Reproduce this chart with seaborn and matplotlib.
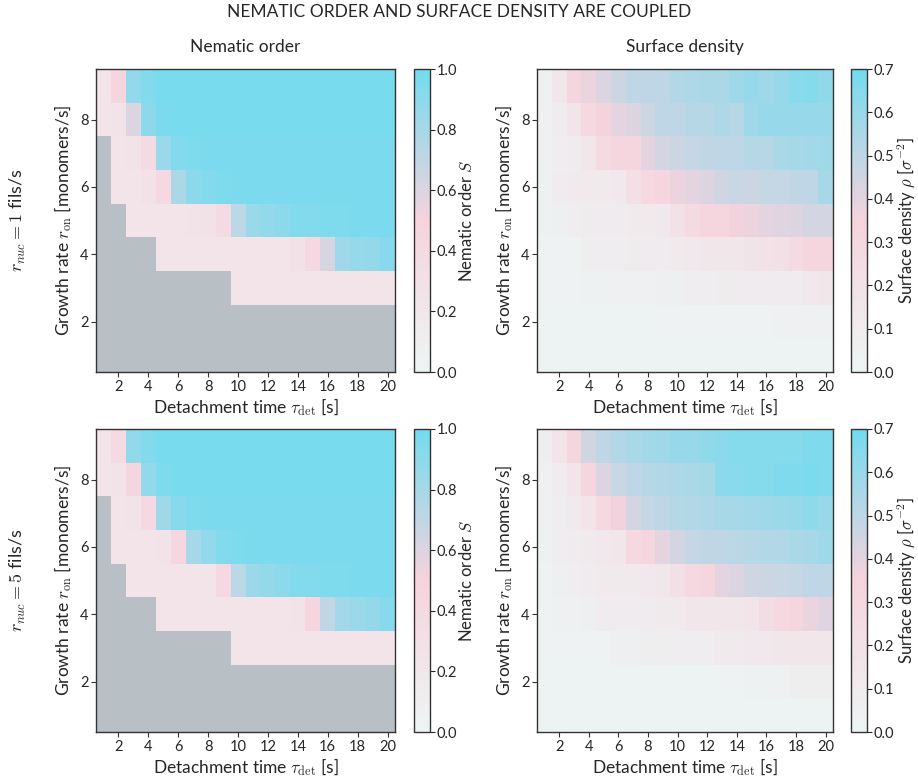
import numpy as np
import pandas as pd
import matplotlib
matplotlib.use("Agg")
import matplotlib.pyplot as plt
from matplotlib.colors import LinearSegmentedColormap
import seaborn as sns

nan = np.nan
tau_det = list(range(1, 21))
r_on = [9, 8, 7, 6, 5, 4, 3, 2, 1]

nematic_r1 = [
    [0.25, 0.45, 0.88, 0.94, 0.97, 0.97, 0.97, 0.97, 0.97, 0.97, 0.97, 0.97, 0.97, 0.97, 0.97, 0.97, 0.97, 0.97, 0.97, 0.97],
    [0.25, 0.27, 0.60, 0.90, 0.96, 0.97, 0.97, 0.97, 0.97, 0.97, 0.97, 0.97, 0.97, 0.97, 0.97, 0.97, 0.97, 0.97, 0.97, 0.97],
    [nan, 0.25, 0.26, 0.40, 0.85, 0.93, 0.95, 0.96, 0.96, 0.96, 0.96, 0.96, 0.96, 0.96, 0.96, 0.96, 0.96, 0.96, 0.96, 0.96],
    [nan, 0.25, 0.25, 0.30, 0.42, 0.78, 0.90, 0.93, 0.95, 0.96, 0.96, 0.96, 0.96, 0.96, 0.96, 0.96, 0.96, 0.96, 0.96, 0.96],
    [nan, nan, 0.25, 0.25, 0.25, 0.25, 0.26, 0.28, 0.40, 0.72, 0.85, 0.88, 0.90, 0.93, 0.94, 0.95, 0.95, 0.96, 0.96, 0.96],
    [nan, nan, nan, nan, 0.25, 0.25, 0.25, 0.25, 0.25, 0.25, 0.25, 0.25, 0.25, 0.30, 0.42, 0.62, 0.83, 0.86, 0.87, 0.92],
    [nan, nan, nan, nan, nan, nan, nan, nan, nan, 0.25, 0.25, 0.25, 0.25, 0.25, 0.25, 0.25, 0.25, 0.25, 0.25, 0.25],
    [nan] * 20,
    [nan] * 20,
]

nematic_r5 = [
    [0.25, 0.40, 0.88, 0.94, 0.97, 0.97, 0.97, 0.97, 0.97, 0.97, 0.97, 0.97, 0.97, 0.97, 0.97, 0.97, 0.97, 0.97, 0.97, 0.97],
    [0.25, 0.26, 0.45, 0.88, 0.95, 0.97, 0.97, 0.97, 0.97, 0.97, 0.97, 0.97, 0.97, 0.97, 0.97, 0.97, 0.97, 0.97, 0.97, 0.97],
    [nan, 0.25, 0.26, 0.42, 0.83, 0.92, 0.95, 0.96, 0.96, 0.96, 0.96, 0.96, 0.96, 0.96, 0.96, 0.96, 0.96, 0.96, 0.96, 0.96],
    [nan, 0.25, 0.25, 0.25, 0.26, 0.44, 0.80, 0.88, 0.93, 0.95, 0.96, 0.96, 0.96, 0.96, 0.96, 0.96, 0.96, 0.96, 0.96, 0.96],
    [nan, nan, 0.25, 0.25, 0.25, 0.25, 0.25, 0.25, 0.42, 0.72, 0.84, 0.87, 0.90, 0.93, 0.94, 0.95, 0.95, 0.96, 0.96, 0.96],
    [nan, nan, nan, nan, 0.25, 0.25, 0.25, 0.25, 0.25, 0.25, 0.25, 0.25, 0.25, 0.27, 0.45, 0.70, 0.82, 0.85, 0.87, 0.92],
    [nan, nan, nan, nan, nan, nan, nan, nan, nan, 0.25, 0.25, 0.25, 0.25, 0.25, 0.25, 0.25, 0.25, 0.25, 0.25, 0.25],
    [nan] * 20,
    [nan] * 20,
]

density_r1 = [
    [0.05, 0.15, 0.33, 0.38, 0.42, 0.46, 0.50, 0.50, 0.50, 0.53, 0.54, 0.55, 0.55, 0.58, 0.60, 0.58, 0.60, 0.64, 0.65, 0.62],
    [0.05, 0.10, 0.18, 0.30, 0.35, 0.40, 0.42, 0.46, 0.50, 0.50, 0.52, 0.52, 0.54, 0.52, 0.58, 0.60, 0.60, 0.60, 0.60, 0.60],
    [0.05, 0.08, 0.10, 0.15, 0.27, 0.33, 0.33, 0.40, 0.44, 0.46, 0.48, 0.49, 0.50, 0.50, 0.52, 0.52, 0.55, 0.56, 0.57, 0.58],
    [0.04, 0.10, 0.11, 0.12, 0.12, 0.13, 0.22, 0.30, 0.33, 0.38, 0.40, 0.42, 0.45, 0.47, 0.46, 0.48, 0.48, 0.49, 0.50, 0.56],
    [0.04, 0.06, 0.08, 0.09, 0.10, 0.10, 0.11, 0.12, 0.13, 0.20, 0.27, 0.32, 0.33, 0.36, 0.38, 0.40, 0.41, 0.42, 0.44, 0.44],
    [0.03, 0.03, 0.03, 0.07, 0.08, 0.08, 0.09, 0.10, 0.10, 0.12, 0.13, 0.14, 0.14, 0.15, 0.17, 0.20, 0.22, 0.28, 0.32, 0.33],
    [0.03, 0.03, 0.03, 0.04, 0.04, 0.05, 0.05, 0.05, 0.06, 0.06, 0.08, 0.08, 0.09, 0.09, 0.10, 0.10, 0.10, 0.10, 0.13, 0.15],
    [0.02, 0.02, 0.02, 0.02, 0.02, 0.02, 0.02, 0.02, 0.03, 0.03, 0.03, 0.03, 0.03, 0.03, 0.03, 0.03, 0.05, 0.05, 0.05, 0.05],
    [0.02, 0.02, 0.02, 0.02, 0.02, 0.02, 0.02, 0.02, 0.02, 0.02, 0.02, 0.02, 0.02, 0.02, 0.02, 0.02, 0.02, 0.02, 0.02, 0.02],
]

density_r5 = [
    [0.08, 0.18, 0.33, 0.45, 0.50, 0.53, 0.55, 0.57, 0.58, 0.60, 0.60, 0.62, 0.63, 0.65, 0.65, 0.65, 0.65, 0.65, 0.66, 0.66],
    [0.05, 0.10, 0.18, 0.33, 0.42, 0.47, 0.50, 0.52, 0.53, 0.54, 0.55, 0.56, 0.63, 0.64, 0.65, 0.65, 0.66, 0.66, 0.67, 0.66],
    [0.05, 0.08, 0.12, 0.18, 0.30, 0.36, 0.44, 0.48, 0.50, 0.52, 0.53, 0.54, 0.56, 0.56, 0.57, 0.58, 0.59, 0.60, 0.62, 0.60],
    [0.04, 0.08, 0.10, 0.12, 0.13, 0.15, 0.30, 0.33, 0.40, 0.44, 0.48, 0.49, 0.50, 0.51, 0.52, 0.53, 0.53, 0.55, 0.56, 0.58],
    [0.03, 0.06, 0.08, 0.10, 0.11, 0.12, 0.12, 0.13, 0.15, 0.22, 0.30, 0.33, 0.40, 0.42, 0.45, 0.46, 0.47, 0.48, 0.50, 0.50],
    [0.03, 0.05, 0.05, 0.06, 0.10, 0.10, 0.10, 0.10, 0.11, 0.11, 0.14, 0.14, 0.14, 0.14, 0.18, 0.25, 0.30, 0.33, 0.38, 0.41],
    [0.03, 0.03, 0.03, 0.03, 0.03, 0.06, 0.06, 0.07, 0.07, 0.08, 0.08, 0.08, 0.12, 0.12, 0.13, 0.13, 0.14, 0.14, 0.15, 0.15],
    [0.02, 0.02, 0.02, 0.02, 0.02, 0.02, 0.02, 0.02, 0.02, 0.02, 0.02, 0.02, 0.03, 0.03, 0.04, 0.04, 0.05, 0.07, 0.07, 0.07],
    [0.02, 0.02, 0.02, 0.02, 0.02, 0.02, 0.02, 0.02, 0.02, 0.02, 0.02, 0.02, 0.02, 0.02, 0.02, 0.02, 0.02, 0.02, 0.02, 0.02],
]

x_ticks = [2, 4, 6, 8, 10, 12, 14, 16, 18, 20]
y_ticks = [2, 4, 6, 8]
nematic_ticks = [0.0, 0.2, 0.4, 0.6, 0.8, 1.0]
density_ticks = [0.0, 0.1, 0.2, 0.3, 0.4, 0.5, 0.6, 0.7]
row_labels = [r"$r_{nuc} = 1$ fils/s", r"$r_{nuc} = 5$ fils/s"]

sns.set_style("white")
plt.rcParams["font.family"] = ["Lato", "DejaVu Sans"]
plt.rcParams["mathtext.fontset"] = "cm"

cmap = LinearSegmentedColormap.from_list(
    "np", [(0.0, "#edf5f4"), (0.5, "#f6d3dd"), (1.0, "#72dbef")])

W, H = 918, 783
fig = plt.figure(figsize=(W / 100, H / 100), dpi=100)

def rect(x0, y0, x1, y1):
    return [x0 / W, 1 - y1 / H, (x1 - x0) / W, (y1 - y0) / H]

rows_px = [(69, 372), (429, 732)]
panels = [
    [(nematic_r1, 1.0, nematic_ticks, r"Nematic order $S$"),
     (density_r1, 0.7, density_ticks, r"Surface density $\rho$ [$\sigma^{-2}$]")],
    [(nematic_r5, 1.0, nematic_ticks, r"Nematic order $S$"),
     (density_r5, 0.7, density_ticks, r"Surface density $\rho$ [$\sigma^{-2}$]")],
]
cols_px = [((96, 395), (414, 430)), ((537, 833), (851, 867))]
titles = ["Nematic order", "Surface density"]

for i, (y0, y1) in enumerate(rows_px):
    for j, ((ax0, ax1), (cb0, cb1)) in enumerate(cols_px):
        data, vmax, cticks, clabel = panels[i][j]
        ax = fig.add_axes(rect(ax0, y0, ax1, y1))
        cax = fig.add_axes(rect(cb0, y0, cb1, y1))
        df = pd.DataFrame(data, index=r_on, columns=tau_det)
        sns.heatmap(df, ax=ax, cbar_ax=cax, cmap=cmap, vmin=0, vmax=vmax,
                    xticklabels=False, yticklabels=False)
        ax.set_facecolor("#b8c0c6")
        for s in ax.spines.values():
            s.set_visible(True)
            s.set_color("#333333")
            s.set_linewidth(1.0)
        ax.set_xticks([tau_det.index(v) + 0.5 for v in x_ticks])
        ax.set_xticklabels([str(v) for v in x_ticks], fontsize=10.5)
        ax.set_yticks([r_on.index(v) + 0.5 for v in y_ticks])
        ax.set_yticklabels([str(v) for v in y_ticks], fontsize=10.5, rotation=0)
        ax.tick_params(axis="both", which="major", length=3.5, width=0.8,
                       color="#333333", bottom=True, left=True, pad=2)
        ax.set_xlabel(r"Detachment time $\tau_{\rm det}$ [s]", fontsize=12.5, labelpad=2)
        ax.set_ylabel(r"Growth rate $r_{\rm on}$ [monomers/s]", fontsize=12.5, labelpad=4)
        if i == 0:
            ax.set_title(titles[j], fontsize=12.5, pad=12)
        cb = ax.collections[0].colorbar
        cb.set_ticks(cticks)
        cb.set_ticklabels([f"{t:.1f}" for t in cticks])
        cb.ax.tick_params(labelsize=10.5, length=3.5, width=0.8, right=True, pad=1)
        cb.outline.set_visible(True)
        cb.outline.set_edgecolor("#333333")
        cb.outline.set_linewidth(1.0)
        cb.set_label(clabel, fontsize=12, labelpad=1)

    yc = 1 - ((y0 + y1) / 2) / H
    fig.text(18 / W, yc, row_labels[i], rotation=90, va="center", ha="center",
             fontsize=13)

fig.suptitle("NEMATIC ORDER AND SURFACE DENSITY ARE COUPLED",
             y=0.995, va="top", fontsize=12.5)

fig.savefig("out.png", dpi=100)
